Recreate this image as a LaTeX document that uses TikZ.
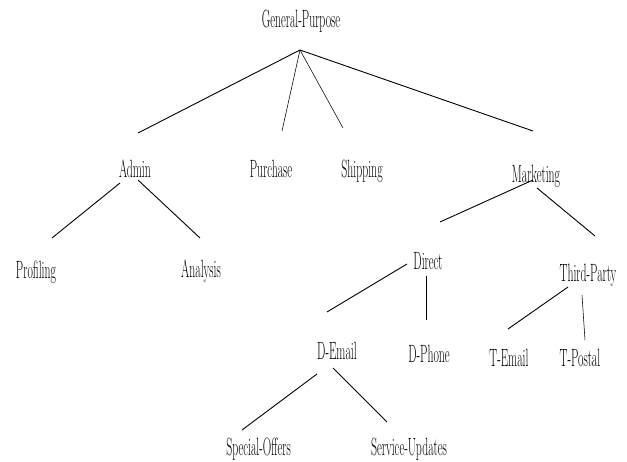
\documentclass[tikz,border=0pt]{standalone}
\usepackage{fontspec}
\newcommand{\cond}[1]{\scalebox{0.47}[1]{#1}}
\tikzset{
  lbl/.style={anchor=base, inner sep=0pt, font=\fontsize{25}{28}\selectfont},
  edge/.style={line width=0.9pt},
  thinedge/.style={line width=0.55pt}
}
\begin{document}
\begin{tikzpicture}[x=1pt,y=-1pt]
\useasboundingbox (0,0) rectangle (627,461);
% nodes
\node[lbl] (gp) at (301,27) {\cond{General-Purpose}};
\node[lbl] (admin) at (135,177) {\cond{Admin}};
\node[lbl] (purchase) at (271,177) {\cond{Purchase}};
\node[lbl] (shipping) at (362,177) {\cond{Shipping}};
\node[lbl] (marketing) at (536,182) {\cond{Marketing}};
\node[lbl] (profiling) at (36,278) {\cond{Profiling}};
\node[lbl] (analysis) at (201,277) {\cond{Analysis}};
\node[lbl] (direct) at (428,269) {\cond{Direct}};
\node[lbl] (third) at (588,281) {\cond{Third-Party}};
\node[lbl] (demail) at (337,359) {\cond{D-Email}};
\node[lbl] (dphone) at (429,362) {\cond{D-Phone}};
\node[lbl] (temail) at (509,366) {\cond{T-Email}};
\node[lbl] (tpostal) at (580,366) {\cond{T-Postal}};
\node[lbl] (special) at (258.5,455) {\cond{Special-Offers}};
\node[lbl] (service) at (409,455) {\cond{Service-Updates}};
% connector end points
\coordinate (gpA) at (300,50);
\coordinate (adminT) at (138,133);
\coordinate (purchaseT) at (282,131);
\coordinate (shippingT) at (343,128);
\coordinate (marketingT) at (533,131);
\coordinate (adminL) at (120,183);
\coordinate (adminR) at (138,180);
\coordinate (profilingT) at (52,238);
\coordinate (analysisT) at (200,238);
\coordinate (marketingL) at (533,180);
\coordinate (marketingR) at (537,188);
\coordinate (directT) at (440,222);
\coordinate (thirdT) at (595,236);
\coordinate (directL) at (407,264);
\coordinate (directB) at (426,276);
\coordinate (demailT) at (327,312);
\coordinate (dphoneT) at (426,320);
\coordinate (thirdL) at (568,287);
\coordinate (thirdB) at (582,295);
\coordinate (temailT) at (508,329);
\coordinate (tpostalT) at (585,340);
\coordinate (demailL) at (317,374);
\coordinate (demailR) at (333,368);
\coordinate (specialT) at (242,430);
\coordinate (serviceT) at (387,422);
% connectors
\draw[edge] (gpA) -- (adminT);
\draw[thinedge] (gpA) -- (purchaseT);
\draw[thinedge] (gpA) -- (shippingT);
\draw[edge] (gpA) -- (marketingT);
\draw[edge] (adminL) -- (profilingT);
\draw[edge] (adminR) -- (analysisT);
\draw[edge] (marketingL) -- (directT);
\draw[edge] (marketingR) -- (thirdT);
\draw[edge] (directL) -- (demailT);
\draw[thinedge] (directB) -- (dphoneT);
\draw[edge] (thirdL) -- (temailT);
\draw[thinedge] (thirdB) -- (tpostalT);
\draw[edge] (demailL) -- (specialT);
\draw[edge] (demailR) -- (serviceT);
\end{tikzpicture}
\end{document}
